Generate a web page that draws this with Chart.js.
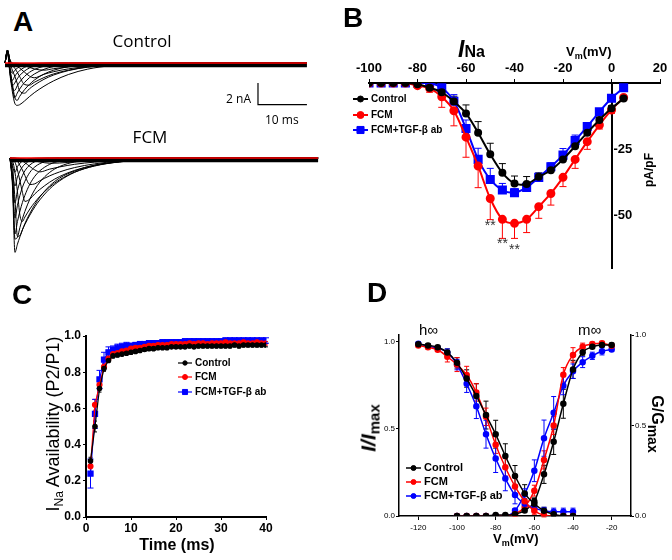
<!DOCTYPE html>
<html>
<head>
<meta charset="utf-8">
<script src="https://cdn.jsdelivr.net/npm/chart.js@4.4.1/dist/chart.umd.min.js"></script>
<style>
body { margin: 0; background: #fff; }
#page { position: relative; width: 672px; height: 560px; overflow: hidden; font-family: 'Liberation Sans', Arial, sans-serif; color: #000; }
.box { position: absolute; }
.t { position: absolute; line-height: 1; white-space: nowrap; }
.os { font-family: 'Open Sans', sans-serif; }
.sb { position: relative; line-height: 0; }
.rot { transform: translate(-50%, -50%) rotate(-90deg); }
.rot90 { transform: translate(-50%, -50%) rotate(90deg); }
</style>
</head>
<body>
<div id="page">
  <div class="box" style="left:0;top:40px;width:336px;height:90px"><canvas id="aControl"></canvas></div>
  <div class="box" style="left:0;top:140px;width:336px;height:130px"><canvas id="aFcm"></canvas></div>
  <div class="box" style="left:336px;top:0;width:336px;height:280px"><canvas id="ivChart"></canvas></div>
  <div class="box" style="left:0;top:280px;width:336px;height:280px"><canvas id="recChart"></canvas></div>
  <div class="box" style="left:336px;top:280px;width:336px;height:280px"><canvas id="gateChart"></canvas></div>

  <div class="t" style="left:13px;top:8px;font-weight:bold;font-size:28px">A</div>
  <div class="t" style="left:343px;top:4px;font-weight:bold;font-size:28px">B</div>
  <div class="t" style="left:12px;top:281px;font-weight:bold;font-size:28px">C</div>
  <div class="t" style="left:367px;top:279px;font-weight:bold;font-size:28px">D</div>

  <div class="t os" style="left:142px;top:32px;font-size:17px;transform:translateX(-50%)">Control</div>
  <div class="t os" style="left:150px;top:128px;font-size:17px;transform:translateX(-50%)">FCM</div>
  <div class="t os" style="right:421px;top:93px;font-size:12px">2 nA</div>
  <div class="t os" style="left:265px;top:114px;font-size:12px">10 ms</div>

  <div class="t" style="left:458px;top:38px;font-weight:bold;font-size:23px"><i>I</i><span style="font-size:16px">Na</span></div>
  <div class="t" style="left:566px;top:45px;font-weight:bold;font-size:13px">V<span class="sb" style="font-size:9px;top:3px">m</span>(mV)</div>
  <div class="t rot" style="left:649px;top:170px;font-weight:bold;font-size:12px">pA/pF</div>

  <div class="t rot" style="left:53px;top:424px;font-size:18px">I<span class="sb" style="font-size:12px;top:4px">Na</span> Availability (P2/P1)</div>
  <div class="t" style="left:177px;top:537px;font-weight:bold;font-size:16px;transform:translateX(-50%)">Time (ms)</div>

  <div class="t" style="left:419px;top:322px;font-size:15px">h∞</div>
  <div class="t" style="left:578px;top:322px;font-size:15px">m∞</div>
  <div class="t rot" style="left:368px;top:428px;font-weight:bold"><i style="font-size:21px">I/I</i><span class="sb" style="font-size:15px;top:4px">max</span></div>
  <div class="t rot90" style="left:657px;top:424px;font-weight:bold;font-size:16px">G/G<span class="sb" style="font-size:14px;top:4px">max</span></div>
  <div class="t" style="left:493px;top:532px;font-weight:bold;font-size:13px">V<span class="sb" style="font-size:9px;top:3px">m</span>(mV)</div>
</div>

<script>
// ---- A: current traces (nA) sampled at traceTime (ms)
const traceTime = [0, 0.5, 1, 1.5, 2, 2.5, 3, 4, 5, 6, 8, 10, 13, 17, 22, 30, 62];
const controlTraces = [
    [0, 1.0, -1.0, -2.6, -3.7, -3.9, -3.84, -3.5, -3.1, -2.74, -2.14, -1.64, -1.06, -0.56, -0.24, -0.06, 0],
    [0, 1.06, -0.5, -1.88, -3.16, -3.44, -3.08, -2.46, -1.98, -1.58, -1.02, -0.66, -0.34, -0.14, -0.04, 0, 0],
    [0, 1.0, -0.66, -2.24, -3.2, -2.78, -2.4, -1.8, -1.36, -1.02, -0.58, -0.32, -0.14, -0.04, 0, 0, 0],
    [0, 1.02, -0.78, -2.22, -2.52, -2.1, -1.76, -1.24, -0.86, -0.6, -0.3, -0.14, -0.04, 0, 0, 0, 0],
    [0, 1.0, -0.8, -2.1, -1.84, -1.46, -1.16, -0.74, -0.46, -0.3, -0.12, -0.04, 0, 0, 0, 0, 0],
    [0, 1.04, -0.62, -1.6, -1.22, -0.92, -0.7, -0.4, -0.22, -0.14, -0.04, 0, 0, 0, 0, 0, 0],
    [0, 1.06, -0.36, -0.94, -0.68, -0.48, -0.34, -0.18, -0.1, -0.04, 0, 0, 0, 0, 0, 0, 0],
    [0, 1.14, 0.06, -0.66, -1.2, -1.86, -2.56, -2.78, -2.38, -2.04, -1.5, -1.1, -0.7, -0.38, -0.18, -0.06, 0],
    [0, 1.16, 0.22, -0.22, -0.48, -0.84, -1.24, -1.98, -2.04, -1.78, -1.34, -1.0, -0.66, -0.36, -0.18, -0.06, 0],
    [0, 1.18, 0.28, -0.08, -0.14, -0.3, -0.46, -0.84, -1.2, -1.36, -1.04, -0.8, -0.54, -0.32, -0.16, -0.06, 0],
    [0, 1.2, 0.3, -0.02, -0.04, -0.08, -0.12, -0.24, -0.4, -0.54, -0.66, -0.52, -0.36, -0.22, -0.12, -0.04, 0],
    [0, 1.2, 0.3, 0, -0.02, -0.02, -0.04, -0.08, -0.12, -0.16, -0.22, -0.24, -0.2, -0.14, -0.08, -0.04, 0]
];
const fcmTraces = [
    [0, -2.6, -8.7, -7.94, -7.26, -6.62, -6.04, -5.1, -4.3, -3.6, -2.56, -1.84, -1.2, -0.66, -0.34, -0.12, 0],
    [0, -2.02, -7.46, -7.3, -6.4, -5.6, -4.92, -3.78, -2.9, -2.22, -1.32, -0.78, -0.36, -0.12, -0.04, 0, 0],
    [0, -2.1, -7.0, -5.86, -4.9, -4.1, -3.44, -2.4, -1.68, -1.18, -0.58, -0.28, -0.1, 0, 0, 0, 0],
    [0, -2.2, -5.52, -4.36, -3.44, -2.7, -2.14, -1.32, -0.82, -0.52, -0.2, -0.08, 0, 0, 0, 0, 0],
    [0, -1.68, -4.14, -3.02, -2.22, -1.62, -1.18, -0.64, -0.34, -0.18, -0.06, 0, 0, 0, 0, 0, 0],
    [0, -1.5, -2.58, -1.76, -1.2, -0.82, -0.56, -0.26, -0.12, -0.06, 0, 0, 0, 0, 0, 0, 0],
    [0, -0.8, -1.32, -0.8, -0.48, -0.3, -0.18, -0.06, -0.02, 0, 0, 0, 0, 0, 0, 0, 0],
    [0, -0.68, -3.8, -7.22, -7.14, -6.62, -6.12, -5.26, -4.5, -3.86, -2.84, -2.1, -1.32, -0.72, -0.36, -0.12, 0],
    [0, -0.24, -1.32, -3.12, -5.28, -5.84, -5.44, -4.7, -4.08, -3.54, -2.66, -2.0, -1.3, -0.74, -0.36, -0.1, 0],
    [0, -0.08, -0.38, -1.1, -2.1, -3.16, -4.0, -3.78, -3.3, -2.9, -2.22, -1.7, -1.14, -0.66, -0.34, -0.12, 0],
    [0, -0.04, -0.12, -0.28, -0.68, -1.1, -1.62, -2.44, -2.38, -2.1, -1.64, -1.28, -0.88, -0.54, -0.28, -0.1, 0],
    [0, 0, -0.02, -0.08, -0.14, -0.28, -0.42, -0.78, -1.1, -1.28, -1.02, -0.82, -0.58, -0.38, -0.22, -0.08, 0],
    [0, 0, 0, -0.02, -0.04, -0.06, -0.1, -0.18, -0.28, -0.36, -0.48, -0.46, -0.36, -0.26, -0.16, -0.06, 0]
];
const baselineNoise = -0.2;
const scaleBarX = [51.95, 51.95, 62];      // 10 ms
const scaleBarY = [-1.84, -3.84, -3.84];   // 2 nA

// ---- B: I-V relation (pA/pF)
const ivVoltage = [-100, -95, -90, -85, -80, -75, -70, -65, -60, -55, -50, -45, -40, -35, -30, -25, -20, -15, -10, -5, 0, 5];
const ivControl = [0, 0, 0, 0, -0.5, -1.8, -3.5, -7, -11.5, -18.8, -27, -34, -38, -38.2, -35.5, -33, -28.9, -23.9, -18.8, -14, -9.6, -5.9];
const ivControlErr = [0, 0, 0, 0, 0, 0.5, 1, 2, 3.2, 4.2, 4.2, 3.5, 2.8, 2.8, 1.5, 1.2, 1.2, 1.2, 1.2, 1, 1, 0.8];
const ivFcm = [0, 0, 0, 0, -1, -2, -5.2, -10.5, -20.5, -31.4, -43.7, -51.6, -53.1, -51.6, -46.8, -41.8, -35.7, -28.9, -22.2, -15.9, -10.2, -5.5];
const ivFcmErr = [0, 0, 0, 0, 0.5, 1.5, 4, 5.7, 7.6, 8.2, 8, 7.2, 5.7, 5, 4.4, 4.4, 3.5, 3.4, 2.9, 1.5, 1.3, 1];
const ivAb = [0, 0, 0, 0, 0, 0, -1.8, -6.9, -17.2, -28.9, -36.5, -40.5, -41.5, -39.5, -35.7, -31.7, -27.3, -21.8, -16.5, -10.9, -5.8, -1.8];
const ivAbErr = [0, 0, 0, 0, 0, 0, 0.5, 2.5, 3.2, 4.2, 4.2, 2.5, 1.5, 1.5, 1.5, 1.5, 2.5, 2.1, 1.5, 1.2, 1, 0.8];
const ivYTicks = [-25, -50];
const ivStarV = [-50, -45, -40];
const ivStarI = [-53, -59.8, -62.1];

// ---- C: recovery from inactivation (P2/P1)
const recTime = [1, 2, 3, 4, 5, 6, 7, 8, 9, 10, 11, 12, 13, 14, 15, 16, 17, 18, 19, 20,
                 21, 22, 23, 24, 25, 26, 27, 28, 29, 30, 31, 32, 33, 34, 35, 36, 37, 38, 39, 40];
const recControl = [0.31, 0.50, 0.71, 0.82, 0.865, 0.89, 0.895, 0.90, 0.905, 0.91, 0.915, 0.92, 0.925, 0.93, 0.93, 0.935, 0.935, 0.935, 0.94, 0.94,
                    0.94, 0.94, 0.945, 0.94, 0.945, 0.945, 0.945, 0.945, 0.945, 0.945, 0.945, 0.945, 0.95, 0.945, 0.95, 0.95, 0.95, 0.95, 0.95, 0.95];
const recControlErr = [0.02, 0.03, 0.02, 0.015, 0.01, 0.01, 0.01, 0.01, 0.01, 0.01, 0.01, 0.01, 0.01, 0.01, 0.01, 0.01, 0.01, 0.01, 0.01, 0.01,
                       0.01, 0.01, 0.01, 0.01, 0.01, 0.01, 0.01, 0.01, 0.01, 0.01, 0.01, 0.01, 0.01, 0.01, 0.01, 0.01, 0.01, 0.01, 0.01, 0.01];
const recFcm = [0.28, 0.62, 0.73, 0.83, 0.875, 0.90, 0.905, 0.915, 0.92, 0.93, 0.935, 0.935, 0.94, 0.945, 0.945, 0.95, 0.95, 0.95, 0.955, 0.955,
                0.955, 0.955, 0.96, 0.955, 0.96, 0.96, 0.955, 0.96, 0.96, 0.96, 0.965, 0.96, 0.96, 0.96, 0.965, 0.96, 0.96, 0.965, 0.96, 0.96];
const recFcmErr = [0.03, 0.03, 0.02, 0.02, 0.015, 0.01, 0.01, 0.01, 0.01, 0.01, 0.01, 0.01, 0.01, 0.01, 0.01, 0.01, 0.01, 0.01, 0.01, 0.01,
                   0.01, 0.01, 0.01, 0.01, 0.01, 0.01, 0.01, 0.01, 0.01, 0.01, 0.01, 0.01, 0.01, 0.01, 0.01, 0.01, 0.01, 0.01, 0.01, 0.01];
const recAb = [0.24, 0.57, 0.76, 0.87, 0.91, 0.925, 0.935, 0.94, 0.945, 0.945, 0.95, 0.955, 0.955, 0.96, 0.96, 0.96, 0.965, 0.965, 0.965, 0.965,
               0.965, 0.97, 0.97, 0.97, 0.97, 0.97, 0.97, 0.97, 0.97, 0.97, 0.975, 0.975, 0.975, 0.975, 0.975, 0.975, 0.975, 0.975, 0.975, 0.975];
const recAbErr = [0.08, 0.08, 0.05, 0.04, 0.03, 0.02, 0.02, 0.02, 0.02, 0.015, 0.015, 0.015, 0.015, 0.015, 0.015, 0.015, 0.015, 0.015, 0.015, 0.015,
                  0.015, 0.015, 0.015, 0.015, 0.015, 0.015, 0.015, 0.015, 0.015, 0.015, 0.015, 0.015, 0.015, 0.015, 0.015, 0.015, 0.015, 0.015, 0.015, 0.015];

// ---- D: steady-state inactivation (h) and activation (m)
const hVoltage = [-120, -115, -110, -105, -100, -95, -90, -85, -80, -75, -70, -65, -60, -55, -50, -45, -40];
const hControl = [0.987, 0.98, 0.97, 0.94, 0.88, 0.79, 0.69, 0.58, 0.47, 0.345, 0.23, 0.13, 0.07, 0.03, 0.01, 0, 0];
const hControlErr = [0.01, 0.01, 0.01, 0.02, 0.03, 0.05, 0.07, 0.08, 0.08, 0.07, 0.06, 0.05, 0.03, 0.02, 0.01, 0, 0];
const hFcm = [0.98, 0.97, 0.955, 0.915, 0.87, 0.81, 0.71, 0.57, 0.41, 0.28, 0.17, 0.085, 0.03, 0.005, 0, 0, 0];
const hFcmErr = [0.01, 0.01, 0.01, 0.03, 0.04, 0.05, 0.05, 0.05, 0.05, 0.05, 0.05, 0.04, 0.02, 0.01, 0, 0, 0];
const hAb = [0.99, 0.975, 0.965, 0.94, 0.87, 0.76, 0.63, 0.47, 0.33, 0.215, 0.12, 0.07, 0.045, 0.03, 0.025, 0.025, 0.025];
const hAbErr = [0.01, 0.01, 0.01, 0.02, 0.03, 0.05, 0.07, 0.08, 0.08, 0.07, 0.05, 0.03, 0.02, 0.02, 0.02, 0.02, 0.02];
const mVoltage = [-100, -95, -90, -85, -80, -75, -70, -65, -60, -55, -50, -45, -40, -35, -30, -25, -20];
const mControl = [0, 0, 0, 0, 0.005, 0.005, 0.01, 0.03, 0.08, 0.23, 0.41, 0.62, 0.81, 0.905, 0.935, 0.945, 0.945];
const mControlErr = [0, 0, 0, 0, 0, 0, 0.005, 0.01, 0.02, 0.05, 0.07, 0.08, 0.05, 0.02, 0.01, 0.01, 0.01];
const mFcm = [0, 0, 0, 0, 0, 0, 0.01, 0.05, 0.14, 0.31, 0.5, 0.78, 0.89, 0.935, 0.95, 0.955, 0.94];
const mFcmErr = [0, 0, 0, 0, 0, 0, 0.01, 0.02, 0.03, 0.05, 0.05, 0.04, 0.04, 0.02, 0.01, 0.01, 0.01];
const mAb = [0, 0, 0, 0, 0, 0, 0.03, 0.12, 0.25, 0.43, 0.57, 0.72, 0.8, 0.85, 0.885, 0.91, 0.92];
const mAbErr = [0, 0, 0, 0, 0, 0, 0.01, 0.03, 0.06, 0.1, 0.09, 0.05, 0.04, 0.03, 0.02, 0.02, 0.01];
const gateTicksX = [-120, -100, -80, -60, -40, -20];
const gateTicksY = [0, 0.5, 1];

const BLACK = '#000000';
const RED = '#ff0000';
const BLUE = '#0000ff';
const FONT = "'Liberation Sans', Arial, sans-serif";

Chart.defaults.font.family = FONT;
Chart.defaults.color = BLACK;
Chart.defaults.animation = false;
Chart.defaults.maintainAspectRatio = false;
Chart.defaults.plugins.legend.display = false;
Chart.defaults.plugins.tooltip.enabled = false;

function xy(xs, ys) {
    return xs.map((x, i) => ({ x: x, y: ys[i] }));
}

// error bars, drawn under the markers
const errorBars = {
    id: 'errorBars',
    beforeDatasetsDraw(chart) {
        const ctx = chart.ctx;
        chart.data.datasets.forEach((ds, i) => {
            if (!ds.errors) return;
            const meta = chart.getDatasetMeta(i);
            const ys = chart.scales[meta.yAxisID];
            const cap = ds.errorCap || 3;
            ctx.save();
            ctx.strokeStyle = ds.borderColor;
            ctx.lineWidth = ds.errorWidth || 1;
            meta.data.forEach((pt, j) => {
                const e = ds.errors[j];
                if (!e) return;
                const v = ds.data[j].y;
                const ends = [];
                if (ds.errorDir !== 'down') ends.push(v + e);
                if (ds.errorDir !== 'up') ends.push(v - e);
                ends.forEach(end => {
                    const y = ys.getPixelForValue(end);
                    ctx.beginPath();
                    ctx.moveTo(pt.x, pt.y);
                    ctx.lineTo(pt.x, y);
                    ctx.moveTo(pt.x - cap, y);
                    ctx.lineTo(pt.x + cap, y);
                    ctx.stroke();
                });
            });
            ctx.restore();
        });
    }
};
Chart.register(errorBars);

// small legend with line + marker + label
function makeLegend(id, x, ys, len, gap, font) {
    return {
        id: id,
        afterDraw(chart) {
            const ctx = chart.ctx;
            ctx.save();
            ctx.font = font;
            ctx.textBaseline = 'middle';
            ys.forEach((y, i) => {
                const ds = chart.data.datasets[i];
                ctx.strokeStyle = ds.borderColor;
                ctx.lineWidth = ds.borderWidth;
                ctx.beginPath();
                ctx.moveTo(x, y);
                ctx.lineTo(x + len, y);
                ctx.stroke();
                ctx.fillStyle = ds.borderColor;
                ctx.lineWidth = 1;
                Chart.helpers.drawPoint(ctx, { pointStyle: ds.pointStyle, radius: ds.pointRadius, rotation: 0, borderWidth: 1 }, x + len / 2, y);
                ctx.fillStyle = BLACK;
                ctx.fillText(ds.label, x + len + gap, y);
            });
            ctx.restore();
        }
    };
}

// ---- A
function traceChart(id, traces, range, withBar) {
    const sets = [];
    const tEnd = traceTime[traceTime.length - 1];
    sets.push({ data: [{ x: 0, y: 0 }, { x: tEnd, y: 0 }], borderColor: RED, borderWidth: 1.5, order: 0 });
    traces.forEach(tr => {
        sets.push({ data: xy(traceTime, tr), borderColor: BLACK, borderWidth: 1, cubicInterpolationMode: 'monotone', order: 1 });
    });
    sets.push({ data: [{ x: 0, y: baselineNoise }, { x: tEnd, y: baselineNoise }], borderColor: BLACK, borderWidth: 4, order: 2 });
    if (withBar) {
        sets.push({ data: xy(scaleBarX, scaleBarY), borderColor: BLACK, borderWidth: 1.2, order: 0 });
    }
    return new Chart(document.getElementById(id), {
        type: 'line',
        data: { datasets: sets },
        options: {
            layout: { padding: 0 },
            elements: { point: { radius: 0 } },
            scales: {
                x: { type: 'linear', display: false, min: range[0], max: range[1] },
                y: { display: false, min: range[2], max: range[3] }
            }
        }
    });
}
traceChart('aControl', controlTraces, [-1.03, 67.97, -6.17, 2.12], true);
traceChart('aFcm', fcmTraces, [-2.01, 65.6, -10.32, 1.66], false);

// ---- B
const ivYLabels = {
    id: 'ivYLabels',
    afterDraw(chart) {
        const ctx = chart.ctx;
        const x0 = chart.scales.x.getPixelForValue(0);
        ctx.save();
        ctx.font = 'bold 13px ' + FONT;
        ctx.fillStyle = BLACK;
        ctx.textBaseline = 'middle';
        ctx.textAlign = 'left';
        ivYTicks.forEach(v => {
            ctx.fillText(String(v), x0 + 2, chart.scales.y.getPixelForValue(v));
        });
        ctx.restore();
    }
};
const ivStars = {
    id: 'ivStars',
    afterDraw(chart) {
        const ctx = chart.ctx;
        ctx.save();
        ctx.font = '14px ' + FONT;
        ctx.fillStyle = '#333';
        ctx.textAlign = 'center';
        ctx.textBaseline = 'middle';
        ivStarV.forEach((v, i) => {
            ctx.fillText('**', chart.scales.x.getPixelForValue(v), chart.scales.y.getPixelForValue(ivStarI[i]) + 3);
        });
        ctx.restore();
    }
};
new Chart(document.getElementById('ivChart'), {
    type: 'line',
    data: {
        datasets: [
            { label: 'Control', data: xy(ivVoltage, ivControl), errors: ivControlErr, errorDir: 'up', errorCap: 3.5,
              borderColor: BLACK, backgroundColor: BLACK, pointStyle: 'circle', pointRadius: 3, borderWidth: 2, tension: 0.3 },
            { label: 'FCM', data: xy(ivVoltage, ivFcm), errors: ivFcmErr, errorDir: 'down', errorCap: 3.5,
              borderColor: RED, backgroundColor: RED, pointStyle: 'circle', pointRadius: 3.5, borderWidth: 2, tension: 0.3 },
            { label: 'FCM+TGF-β ab', data: xy(ivVoltage, ivAb), errors: ivAbErr, errorDir: 'up', errorCap: 3.5,
              borderColor: BLUE, backgroundColor: BLUE, pointStyle: 'rect', pointRadius: 5, borderWidth: 2, tension: 0.3 }
        ]
    },
    options: {
        layout: { padding: { left: 33, right: 12, top: 0, bottom: 12 } },
        scales: {
            x: {
                type: 'linear', position: 'top', min: -100, max: 20,
                afterFit(s) { s.height = 83; },
                ticks: { stepSize: 20, font: { size: 13, weight: 'bold' }, padding: 3, maxRotation: 0 },
                grid: { drawOnChartArea: false, tickLength: 4, color: BLACK },
                border: { color: BLACK, width: 2 }
            },
            y: {
                position: { x: 0 }, min: -70, max: 0,
                ticks: { display: false },
                grid: { display: false },
                border: { color: BLACK, width: 2 }
            }
        }
    },
    plugins: [ivYLabels, ivStars, makeLegend('ivLegend', 17, [99, 115, 130], 15, 3, 'bold 10px ' + FONT)]
});

// ---- C
new Chart(document.getElementById('recChart'), {
    type: 'line',
    data: {
        datasets: [
            { label: 'Control', data: xy(recTime, recControl), errors: recControlErr, errorCap: 2,
              borderColor: BLACK, backgroundColor: BLACK, pointStyle: 'circle', pointRadius: 2.2, borderWidth: 1.2 },
            { label: 'FCM', data: xy(recTime, recFcm), errors: recFcmErr, errorCap: 2,
              borderColor: RED, backgroundColor: RED, pointStyle: 'circle', pointRadius: 2.5, borderWidth: 1.2 },
            { label: 'FCM+TGF-β ab', data: xy(recTime, recAb), errors: recAbErr, errorCap: 3,
              borderColor: BLUE, backgroundColor: BLUE, pointStyle: 'rect', pointRadius: 3.6, borderWidth: 1.2 }
        ]
    },
    options: {
        layout: { padding: { left: 0, right: 70, top: 56, bottom: 0 } },
        scales: {
            x: {
                type: 'linear', min: 0, max: 40,
                afterFit(s) { s.height = 43; },
                ticks: { stepSize: 10, font: { size: 12, weight: 'bold' }, padding: 1, maxRotation: 0 },
                grid: { drawOnChartArea: false, tickLength: 3, color: BLACK },
                border: { color: BLACK, width: 2 }
            },
            y: {
                min: 0, max: 1,
                afterFit(s) { s.width = 86; },
                ticks: { stepSize: 0.2, font: { size: 12, weight: 'bold' }, padding: 2, callback: v => v.toFixed(1) },
                grid: { drawOnChartArea: false, tickLength: 3, color: BLACK },
                border: { color: BLACK, width: 2 }
            }
        }
    },
    plugins: [makeLegend('recLegend', 178, [83, 97, 112], 14, 3, 'bold 10px ' + FONT)]
});

// ---- D
new Chart(document.getElementById('gateChart'), {
    type: 'line',
    data: {
        datasets: [
            { label: 'Control', data: xy(hVoltage, hControl), errors: hControlErr, errorCap: 2.5, yAxisID: 'y',
              borderColor: BLACK, backgroundColor: BLACK, pointStyle: 'circle', pointRadius: 2.5, borderWidth: 1.5, cubicInterpolationMode: 'monotone' },
            { label: 'FCM', data: xy(hVoltage, hFcm), errors: hFcmErr, errorCap: 2.5, yAxisID: 'y',
              borderColor: RED, backgroundColor: RED, pointStyle: 'circle', pointRadius: 2.5, borderWidth: 1.5, cubicInterpolationMode: 'monotone' },
            { label: 'FCM+TGF-β ab', data: xy(hVoltage, hAb), errors: hAbErr, errorCap: 2.5, yAxisID: 'y',
              borderColor: BLUE, backgroundColor: BLUE, pointStyle: 'circle', pointRadius: 2.5, borderWidth: 1.5, cubicInterpolationMode: 'monotone' },
            { label: 'Control', data: xy(mVoltage, mControl), errors: mControlErr, errorCap: 2.5, yAxisID: 'y2',
              borderColor: BLACK, backgroundColor: BLACK, pointStyle: 'circle', pointRadius: 2.5, borderWidth: 1.5, cubicInterpolationMode: 'monotone' },
            { label: 'FCM', data: xy(mVoltage, mFcm), errors: mFcmErr, errorCap: 2.5, yAxisID: 'y2',
              borderColor: RED, backgroundColor: RED, pointStyle: 'circle', pointRadius: 2.5, borderWidth: 1.5, cubicInterpolationMode: 'monotone' },
            { label: 'FCM+TGF-β ab', data: xy(mVoltage, mAb), errors: mAbErr, errorCap: 2.5, yAxisID: 'y2',
              borderColor: BLUE, backgroundColor: BLUE, pointStyle: 'circle', pointRadius: 2.5, borderWidth: 1.5, cubicInterpolationMode: 'monotone' }
        ]
    },
    options: {
        layout: { padding: { left: 0, right: 0, top: 55, bottom: 0 } },
        scales: {
            x: {
                type: 'linear', min: -130, max: -10,
                afterFit(s) { s.height = 44; },
                afterBuildTicks(s) { s.ticks = gateTicksX.map(v => ({ value: v })); },
                ticks: { font: { size: 8 }, padding: 3, maxRotation: 0 },
                grid: { drawOnChartArea: false, tickLength: 4, color: BLACK },
                border: { color: BLACK, width: 1.5 }
            },
            y: {
                position: 'left', min: 0, max: 1.04,
                afterFit(s) { s.width = 63; },
                afterBuildTicks(s) { s.ticks = gateTicksY.map(v => ({ value: v })); },
                ticks: { font: { size: 8 }, padding: 1, callback: v => v.toFixed(1) },
                grid: { drawOnChartArea: false, tickLength: 3, color: BLACK },
                border: { color: BLACK, width: 1.5 }
            },
            y2: {
                position: 'right', min: 0, max: 1.0,
                afterFit(s) { s.width = 41; },
                afterBuildTicks(s) { s.ticks = gateTicksY.map(v => ({ value: v })); },
                ticks: { font: { size: 8 }, padding: 1, callback: v => v.toFixed(1) },
                grid: { drawOnChartArea: false, tickLength: 3, color: BLACK },
                border: { color: BLACK, width: 1.5 }
            }
        }
    },
    plugins: [makeLegend('gateLegend', 70, [188, 202, 216], 15, 3, 'bold 11px ' + FONT)]
});
</script>
</body>
</html>
